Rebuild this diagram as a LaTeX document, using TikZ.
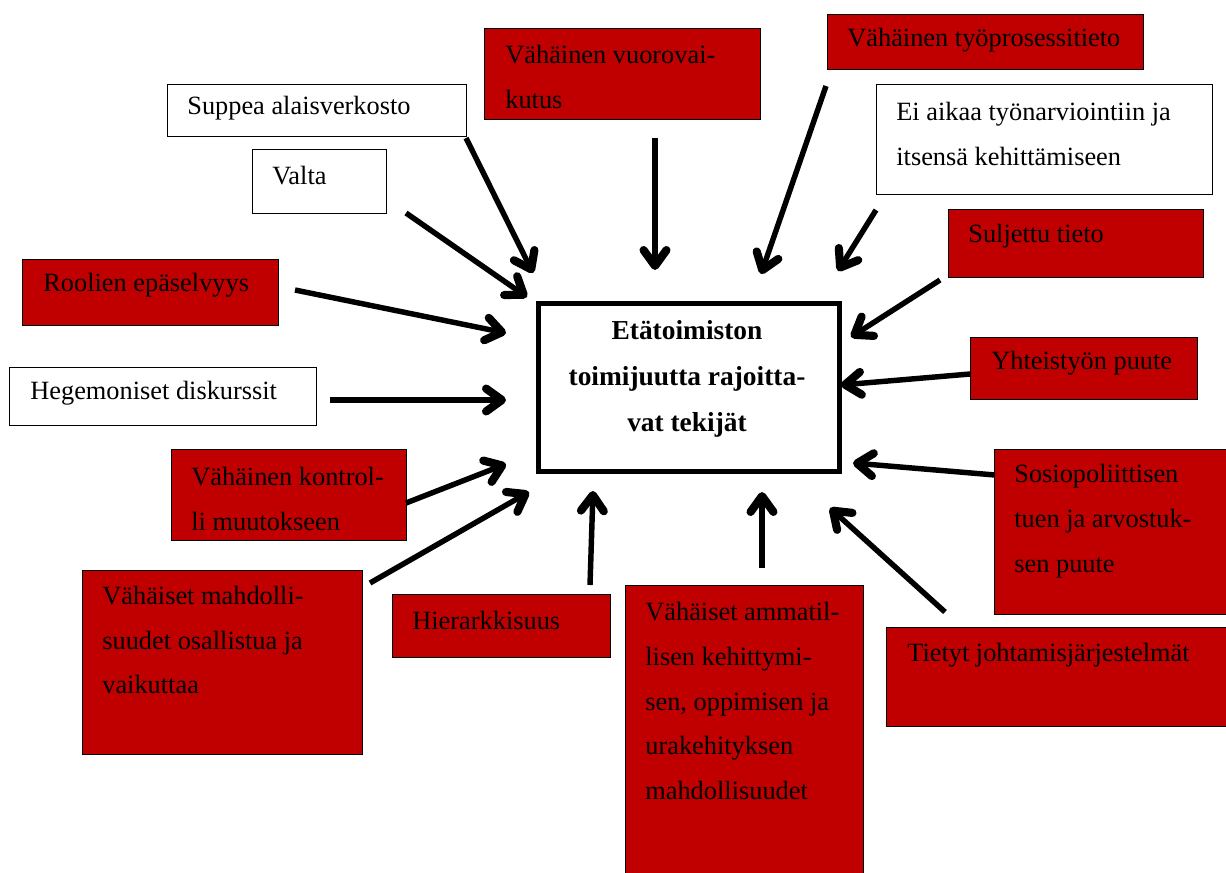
\documentclass[tikz,border=0pt]{standalone}
\usepackage{fontspec}
\setmainfont{Liberation Serif}
\usetikzlibrary{arrows.meta}
\definecolor{boxred}{HTML}{C00000}
\tikzset{
  redbox/.style={draw=black, line width=0.6pt, fill=boxred, anchor=north west, inner sep=0pt},
  whitebox/.style={draw=black, line width=0.6pt, fill=white, anchor=north west, inner sep=0pt},
  lbl/.style={anchor=west, inner sep=0pt, align=left, font=\fontsize{15}{25.5}\selectfont},
  arr/.style={line width=3.1pt, -{Straight Barb[length=9pt,width=13pt,line width=0pt 1.5,round]}},
}
\begin{document}
\begin{tikzpicture}[x=0.02cm,y=-0.02cm]
\useasboundingbox (0,0) rectangle (1226,872);
% center
\node[draw=black, line width=2.6pt, anchor=north west, inner sep=0pt, minimum width=301*0.02cm, minimum height=168*0.02cm] (center) at (536,301) {};
\node[anchor=center, inner sep=0pt, align=center, font=\bfseries\fontsize{15.6}{26.2}\selectfont] (ctext) at (687,379) {Etätoimiston\\toimijuutta rajoitta-\\vat tekijät};
% boxes
\node[redbox, minimum width=276*0.02cm, minimum height=91*0.02cm] (b1) at (484,28) {};
\node[lbl] (t1) at (505,77) {Vähäinen vuorovai-\\kutus};
\node[redbox, minimum width=316*0.02cm, minimum height=55*0.02cm] (b2) at (827,14) {};
\node[lbl] (t2) at (847,40) {Vähäinen työprosessitieto};
\node[whitebox, minimum width=299*0.02cm, minimum height=52*0.02cm] (b3) at (167,84) {};
\node[lbl] (t3) at (187,108) {Suppea alaisverkosto};
\node[whitebox, minimum width=336*0.02cm, minimum height=110*0.02cm] (b4) at (876,84) {};
\node[lbl] (t4) at (896,134) {Ei aikaa työnarviointiin ja\\itsensä kehittämiseen};
\node[whitebox, minimum width=134*0.02cm, minimum height=64*0.02cm] (b5) at (252,149) {};
\node[lbl] (t5) at (272,176) {Valta};
\node[redbox, minimum width=255*0.02cm, minimum height=68*0.02cm] (b6) at (948,209) {};
\node[lbl] (t6) at (968,236) {Suljettu tieto};
\node[redbox, minimum width=256*0.02cm, minimum height=66*0.02cm] (b7) at (22,259) {};
\node[lbl] (t7) at (43,285) {Roolien epäselvyys};
\node[redbox, minimum width=227*0.02cm, minimum height=62*0.02cm] (b8) at (970,337) {};
\node[lbl] (t8) at (991,363) {Yhteistyön puute};
\node[whitebox, minimum width=307*0.02cm, minimum height=58*0.02cm] (b9) at (9,367) {};
\node[lbl] (t9) at (30,393) {Hegemoniset diskurssit};
\node[redbox, minimum width=235*0.02cm, minimum height=91*0.02cm] (b10) at (171,449) {};
\node[lbl] (t10) at (191,499) {Vähäinen kontrol-\\li muutokseen};
\node[redbox, minimum width=232*0.02cm, minimum height=165*0.02cm] (b11) at (994,449) {};
\node[lbl] (t11) at (1014,521) {Sosiopoliittisen\\tuen ja arvostuk-\\sen puute};
\node[redbox, minimum width=280*0.02cm, minimum height=184*0.02cm] (b12) at (82,570) {};
\node[lbl] (t12) at (102,640) {Vähäiset mahdolli-\\suudet osallistua ja\\vaikuttaa};
\node[redbox, minimum width=218*0.02cm, minimum height=63*0.02cm] (b13) at (392,594) {};
\node[lbl] (t13) at (412,620) {Hierarkkisuus};
\node[redbox, minimum width=238*0.02cm, minimum height=290*0.02cm] (b14) at (625,585) {};
\node[lbl] (t14) at (645,701) {Vähäiset ammatil-\\lisen kehittymi-\\sen, oppimisen ja\\urakehityksen\\mahdollisuudet};
\node[redbox, minimum width=340*0.02cm, minimum height=99*0.02cm] (b15) at (886,627) {};
\node[lbl] (t15) at (907,655) {Tietyt johtamisjärjestelmät};
% arrow endpoints
\coordinate (s1) at (466,138); \coordinate (e1) at (533,273);
\coordinate (s2) at (406,213); \coordinate (e2) at (527,297);
\coordinate (s3) at (295,290); \coordinate (e3) at (506,333);
\coordinate (s4) at (330,400); \coordinate (e4) at (506,400);
\coordinate (s5) at (406,503); \coordinate (e5) at (506,464);
\coordinate (s6) at (370,583); \coordinate (e6) at (529,492);
\coordinate (s7) at (590,585); \coordinate (e7) at (593,491);
\coordinate (s8) at (655,138); \coordinate (e8) at (655,270);
\coordinate (s9) at (826,86); \coordinate (e9) at (761,274);
\coordinate (s10) at (876,210); \coordinate (e10) at (838,271);
\coordinate (s11) at (940,280); \coordinate (e11) at (851,337);
\coordinate (s12) at (970,374); \coordinate (e12) at (841,385);
\coordinate (s13) at (995,475); \coordinate (e13) at (853,463);
\coordinate (s14) at (945,612); \coordinate (e14) at (830,508);
\coordinate (s15) at (762,568); \coordinate (e15) at (762,492);
\foreach \i in {1,...,15} {\draw[arr] (s\i) -- (e\i);}
\end{tikzpicture}
\end{document}
